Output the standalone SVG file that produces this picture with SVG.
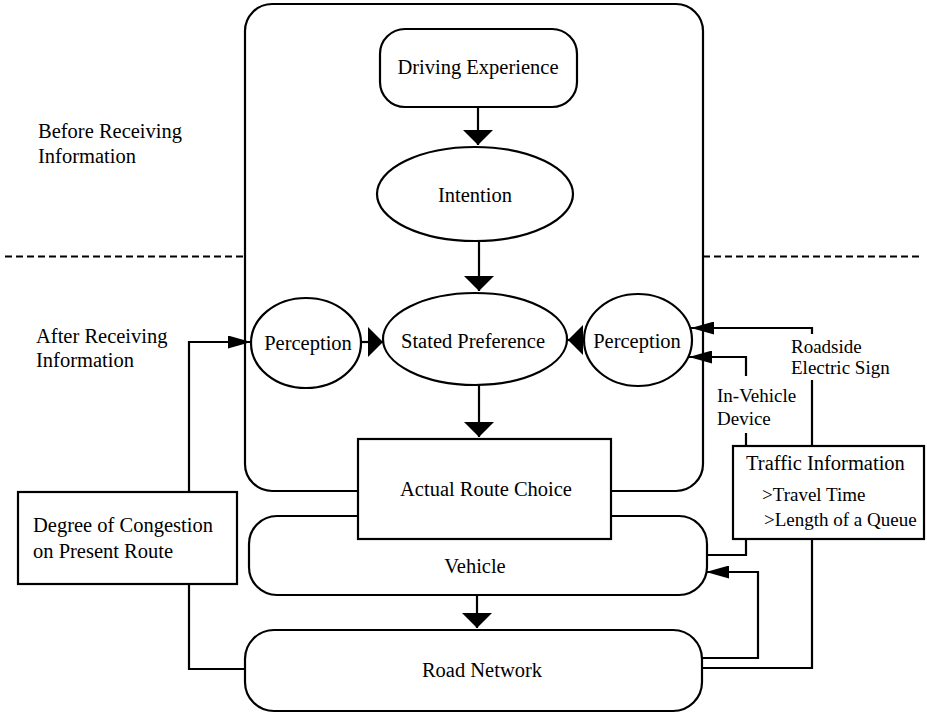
<svg xmlns="http://www.w3.org/2000/svg" width="927" height="713" viewBox="0 0 927 713">
<style>
.box{fill:#fff;stroke:#000;stroke-width:2.2}
.ln{fill:none;stroke:#000;stroke-width:2.2}
.dash{fill:none;stroke:#000;stroke-width:2;stroke-dasharray:7 4}
text{font-family:"Liberation Serif","Times New Roman",serif;font-size:20.5px;fill:#000}
.c{text-anchor:middle}
.s{font-size:19px}
</style>
<defs>
<marker id="big" markerUnits="userSpaceOnUse" markerWidth="16" markerHeight="30" refX="15" refY="15" orient="auto" viewBox="0 0 16 30">
<path d="M0,0 L15,15 L0,30 z" fill="#000"/>
</marker>
<marker id="small" markerUnits="userSpaceOnUse" markerWidth="24" markerHeight="13" refX="23" refY="6.5" orient="auto" viewBox="0 0 24 13">
<path d="M0,0 L23,6.5 L0,13 z" fill="#000"/>
</marker>
</defs>
<rect width="927" height="713" fill="#fff"/>

<g id="phase-lines">
<path class="dash" d="M5,256.5 H245 M703,256.5 H922"/>
<text x="38" y="138">Before Receiving</text>
<text x="38" y="163">Information</text>
<text x="36" y="343">After Receiving</text>
<text x="36" y="367">Information</text>
</g>

<g id="driver">
<rect class="box" x="245" y="4" width="458" height="487" rx="27"/>
</g>

<g id="driving-experience">
<rect class="box" x="380" y="29" width="197" height="78" rx="25"/>
<text class="c" x="478" y="74">Driving Experience</text>
</g>

<g id="intention">
<ellipse class="box" cx="475" cy="194" rx="98" ry="47"/>
<text class="c" x="475" y="202">Intention</text>
</g>

<g id="stated-preference">
<ellipse class="box" cx="475" cy="339" rx="92" ry="46"/>
<text class="c" x="473" y="348">Stated Preference</text>
</g>

<g id="perception-left">
<ellipse class="box" cx="306" cy="343" rx="55" ry="45"/>
<text class="c" x="308" y="350">Perception</text>
</g>

<g id="perception-right">
<ellipse class="box" cx="638" cy="340" rx="54" ry="46"/>
<text class="c" x="637" y="348">Perception</text>
</g>

<g id="vehicle">
<rect class="box" x="249" y="516" width="458" height="79" rx="28"/>
<text class="c" x="475" y="573">Vehicle</text>
</g>

<g id="actual-route-choice">
<rect class="box" x="358" y="439" width="253" height="100"/>
<text class="c" x="486" y="496">Actual Route Choice</text>
</g>

<g id="road-network">
<rect class="box" x="245" y="630" width="457" height="81" rx="29"/>
<text class="c" x="482" y="677">Road Network</text>
</g>

<g id="degree-of-congestion">
<rect class="box" x="18" y="492" width="219" height="92"/>
<text x="33" y="532">Degree of Congestion</text>
<text x="33" y="558">on Present Route</text>
</g>

<g id="traffic-information">
<rect class="box" x="733" y="446" width="191" height="93"/>
<text x="746" y="470">Traffic Information</text>
<text class="s" x="762" y="501">&gt;Travel Time</text>
<text class="s" x="764" y="526">&gt;Length of a Queue</text>
</g>

<g id="connectors">
<path class="ln" d="M478,107 V145" marker-end="url(#big)"/>
<path class="ln" d="M479,241 V291" marker-end="url(#big)"/>
<path class="ln" d="M479,385 V437" marker-end="url(#big)"/>
<path class="ln" d="M361,342 H383" marker-end="url(#big)"/>
<path class="ln" d="M584,340 H568" marker-end="url(#big)"/>
<path class="ln" d="M477,595 V628" marker-end="url(#big)"/>
<path class="ln" d="M189,492 V342 H251" marker-end="url(#small)"/>
<path class="ln" d="M189,584 V669 H245"/>
<path class="ln" d="M812,446 V380 M812,334 V328 H691" marker-end="url(#small)"/>
<path class="ln" d="M746,446 V433 M746,376 V357 H689" marker-end="url(#small)"/>
<path class="ln" d="M746,539 V555 H707"/>
<path class="ln" d="M812,539 V668 H702"/>
<path class="ln" d="M702,658 H758 V572 H706" marker-end="url(#small)"/>
<text class="s" x="791" y="353">Roadside</text>
<text class="s" x="791" y="374">Electric Sign</text>
<text class="s" x="717" y="402">In-Vehicle</text>
<text class="s" x="717" y="425">Device</text>
</g>
</svg>
